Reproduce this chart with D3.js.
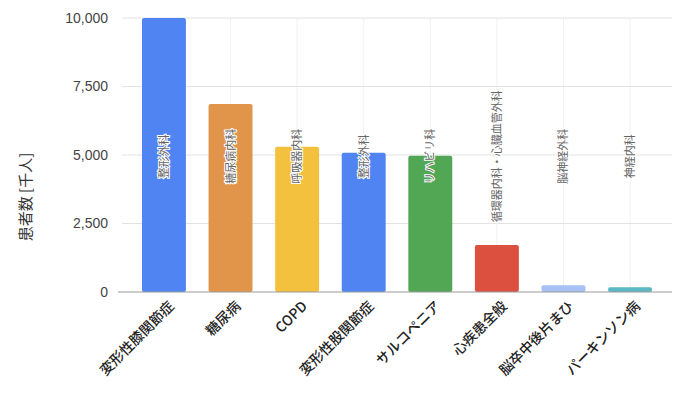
<!DOCTYPE html>
<html lang="ja">
<head>
<meta charset="UTF-8">
<title>患者数</title>
<script src="https://d3js.org/d3.v7.min.js"></script>
<style>
    body { margin: 0; background: #fff; }
    .axis text { font-family: "Noto Sans CJK JP", "Noto Sans", sans-serif; }
</style>
</head>
<body>
<script>
// data
var categories = ["変形性膝関節症", "糖尿病", "COPD", "変形性股関節症", "サルコペニア", "心疾患全般", "脳卒中後片まひ", "パーキンソン病"];
var patients = [10000, 6860, 5300, 5080, 4970, 1715, 250, 170];
var departments = ["整形外科", "糖尿病内科", "呼吸器内科", "整形外科", "リハビリ科", "循環器内科・心臓血管外科", "脳神経外科", "神経内科"];
var colors = ["#4f84f2", "#e0954a", "#f4c13f", "#4f84f2", "#52a755", "#dc5040", "#a7c0f5", "#5bb8c4"];
var yTicks = [0, 2500, 5000, 7500, 10000];

var W = 688, H = 397;
var plot = {left: 122, right: 672, top: 18, bottom: 292};

var svg = d3.select("body").append("svg")
    .attr("width", W)
    .attr("height", H);

var x = d3.scaleBand()
    .domain(categories)
    .range([plot.left, plot.right])
    .paddingInner(0.34)
    .paddingOuter(0.3);

var y = d3.scaleLinear().domain([0, 10000]).range([plot.bottom, plot.top]);

var font = '"Noto Sans CJK JP", "Noto Sans", sans-serif';

// vertical faint lines at category centres
svg.append("g").selectAll("line")
    .data(categories).enter()
    .append("line")
    .attr("x1", function(d){ return x(d) + x.bandwidth() / 2; })
    .attr("x2", function(d){ return x(d) + x.bandwidth() / 2; })
    .attr("y1", plot.top)
    .attr("y2", plot.bottom)
    .attr("stroke", "#f1f1f1");

// horizontal gridlines
svg.append("g").selectAll("line")
    .data(yTicks.filter(function(d){ return d > 0; })).enter()
    .append("line")
    .attr("x1", plot.left)
    .attr("x2", plot.right)
    .attr("y1", function(d){ return y(d); })
    .attr("y2", function(d){ return y(d); })
    .attr("stroke", "#e2e2e2");

// y axis labels
var yAxis = d3.axisLeft(y).tickValues(yTicks).tickSize(0).tickPadding(14)
    .tickFormat(d3.format(","));
var yg = svg.append("g")
    .attr("class", "axis")
    .attr("transform", "translate(" + plot.left + ",0)")
    .call(yAxis);
yg.select(".domain").remove();
yg.selectAll("text")
    .attr("fill", "#444")
    .style("font-size", "14px")
    .style("font-family", "Liberation Sans, Arial, sans-serif");

// bars
svg.append("g").selectAll("rect")
    .data(patients).enter()
    .append("rect")
    .attr("x", function(d, i){ return x(categories[i]); })
    .attr("y", function(d){ return y(d); })
    .attr("width", x.bandwidth())
    .attr("height", function(d){ return plot.bottom - y(d); })
    .attr("rx", 2)
    .attr("fill", function(d, i){ return colors[i]; });

// baseline
svg.append("line")
    .attr("x1", plot.left - 4)
    .attr("x2", plot.right)
    .attr("y1", y(0))
    .attr("y2", y(0))
    .attr("stroke", "#9a9a9a")
    .attr("stroke-width", 1.2);

// department annotations
svg.append("g").selectAll("text")
    .data(departments).enter()
    .append("text")
    .attr("transform", function(d, i){
        return "translate(" + (x(categories[i]) + x.bandwidth() / 2 + 4) + "," + y(4950) + ") rotate(-90)";
    })
    .attr("text-anchor", "middle")
    .attr("font-family", font)
    .attr("font-size", "11px")
    .attr("fill", "#666")
    .attr("stroke", "#fff")
    .attr("stroke-width", 2)
    .attr("paint-order", "stroke")
    .text(function(d){ return d; });

// x axis labels
var xAxis = d3.axisBottom(x).tickSize(0).tickPadding(0);
var xg = svg.append("g")
    .attr("class", "axis")
    .attr("transform", "translate(0," + plot.bottom + ")")
    .call(xAxis);
xg.select(".domain").remove();
xg.selectAll("text")
    .attr("text-anchor", "end")
    .attr("fill", "#222")
    .style("font-size", "14px")
    .style("font-weight", "500")
    .attr("dy", "0")
    .attr("y", 0)
    .attr("transform", "translate(11,15) rotate(-45)");

// y axis title
svg.append("text")
    .attr("transform", "translate(31,197) rotate(-90)")
    .attr("text-anchor", "middle")
    .attr("font-family", font)
    .attr("font-size", "15px")
    .attr("fill", "#333")
    .text("患者数 [千人]");
</script>
</body>
</html>
